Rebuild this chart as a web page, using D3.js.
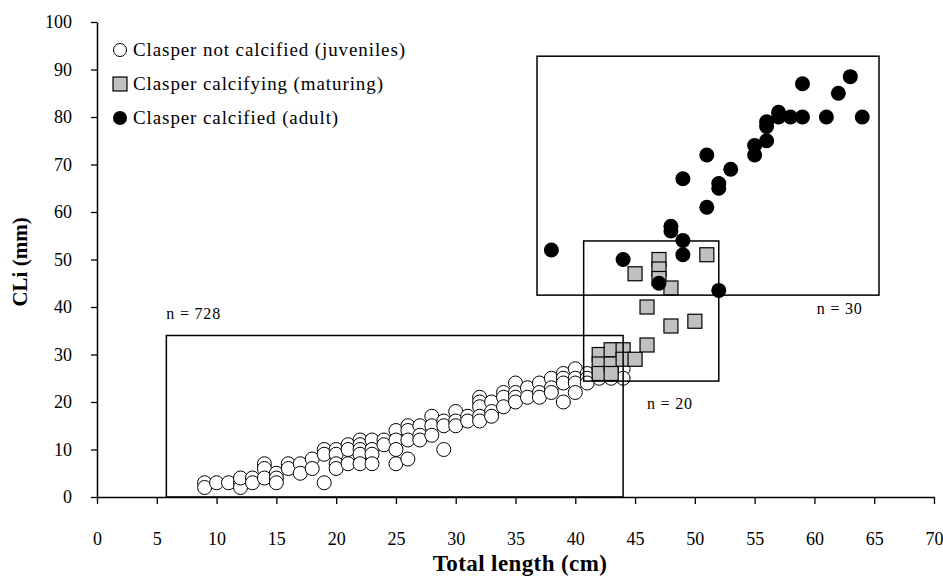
<!DOCTYPE html>
<html>
<head>
<meta charset="utf-8">
<script src="https://cdn.jsdelivr.net/npm/d3@7"></script>
<style>
  body { margin: 0; background: #fff; }
  svg text { font-family: "Liberation Serif", "Times New Roman", serif; }
</style>
</head>
<body>
<svg id="chart" width="943" height="579"></svg>
<script>
// Juveniles: clasper not calcified  [total length cm, CLi mm]
const juveniles = [
  [9,3],[9,2],[10,3],[11,3],[12,3],[12,2],[12,4],[13,4],[13,3],
  [14,7],[14,6],[14,4],[15,5],[15,4],[15,3],[16,7],[16,6],[17,7],[17,5],
  [18,8],[18,6],[19,10],[19,9],[19,3],[20,10],[20,9],[20,7],[20,6],
  [21,11],[21,10],[21,7],[22,12],[22,11],[22,10],[22,9],[22,7],
  [23,12],[23,10],[23,9],[23,7],[24,12],[24,11],[25,14],[25,12],[25,10],[25,7],
  [26,15],[26,14],[26,12],[26,8],[27,15],[27,13],[27,12],[28,17],[28,15],[28,13],
  [29,16],[29,15],[29,10],[30,18],[30,16],[30,15],[31,17],[31,16],
  [32,21],[32,20],[32,19],[32,17],[32,16],[33,20],[33,18],[33,17],
  [34,22],[34,21],[34,19],[35,24],[35,22],[35,21],[35,20],
  [36,23],[36,21],[37,24],[37,22],[37,21],[38,25],[38,23],[38,22],
  [39,26],[39,25],[39,24],[39,20],[40,27],[40,25],[40,24],[40,22],
  [41,26],[41,25],[41,24],[42,26],[42,25],[43,25],[43,27],[44,27],[44,25]
];
// Maturing: clasper calcifying
const maturing = [
  [42,30],[42,28],[42,26],[43,31],[43,28],[43,26],[44,31],[44,29],
  [45,29],[45,47],[46,32],[46,40],[47,50],[47,48],[47,46],
  [48,44],[48,36],[50,37],[51,51]
];
// Adults: clasper calcified
const adults = [
  [38,52],[44,50],[47,45],[48,57],[48,56],[49,54],[49,51],[49,67],
  [51,72],[51,61],[52,66],[52,65],[52,43.5],[53,69],[55,74],[55,72],
  [56,79],[56,78],[56,75],[57,81],[57,80],[58,80],[59,80],[59,87],
  [61,80],[62,85],[63,88.5],[64,80]
];
// Group boxes: [x0, x1, y0, y1, label, label x, label y]
const boxes = [
  [5.8, 44, 0, 34, "n = 728", 5.8, 37.5],
  [40.7, 52, 24.4, 53.9, "n = 20", 46, 18.5],
  [36.8, 65.4, 42.5, 92.8, "n = 30", 60.2, 38.6]
];
const legendItems = ["Clasper not calcified (juveniles)", "Clasper calcifying (maturing)", "Clasper calcified (adult)"];
const xTicks = d3.range(0, 71, 5);
const yTicks = d3.range(0, 101, 10);

const svg = d3.select("#chart");
const x = d3.scaleLinear().domain([0, 70]).range([97, 934]);
const y = d3.scaleLinear().domain([0, 100]).range([497, 22]);

// axes
svg.append("g")
    .attr("transform", "translate(0," + y(0) + ")")
    .call(d3.axisBottom(x).tickValues(xTicks).tickSize(7).tickSizeOuter(0).tickPadding(28))
    .call(g => g.select(".domain").attr("stroke-width", 1.5))
    .call(g => g.selectAll(".tick line").attr("stroke-width", 1.3))
    .call(g => g.selectAll("text").attr("font-size", 18).attr("fill", "#000")
        .attr("font-family", "Liberation Serif"));

svg.append("g")
    .attr("transform", "translate(" + x(0) + ",0)")
    .call(d3.axisLeft(y).tickValues(yTicks).tickSize(6).tickSizeOuter(0).tickPadding(19))
    .call(g => g.select(".domain").attr("stroke-width", 1.5))
    .call(g => g.selectAll(".tick line").attr("stroke-width", 1.3))
    .call(g => g.selectAll("text").attr("font-size", 18).attr("fill", "#000")
        .attr("font-family", "Liberation Serif"));

// axis titles
svg.append("text")
    .attr("x", 520).attr("y", 571)
    .attr("text-anchor", "middle")
    .attr("font-size", 23).attr("font-weight", "bold")
    .attr("letter-spacing", 0.4)
    .text("Total length (cm)");

svg.append("text")
    .attr("transform", "translate(27,262) rotate(-90)")
    .attr("text-anchor", "middle")
    .attr("font-size", 21).attr("font-weight", "bold")
    .text("CLi (mm)");

// markers
svg.append("g").selectAll("circle")
  .data(juveniles)
  .enter().append("circle")
    .attr("cx", d => x(d[0])).attr("cy", d => y(d[1]))
    .attr("r", 7)
    .attr("fill", "#fff").attr("stroke", "#000").attr("stroke-width", 1);

svg.append("g").selectAll("rect")
  .data(maturing)
  .enter().append("rect")
    .attr("x", d => x(d[0]) - 7).attr("y", d => y(d[1]) - 7)
    .attr("width", 14).attr("height", 14)
    .attr("fill", "#c0c0c0").attr("stroke", "#000").attr("stroke-width", 1.2);

svg.append("g").selectAll("circle")
  .data(adults)
  .enter().append("circle")
    .attr("cx", d => x(d[0])).attr("cy", d => y(d[1]))
    .attr("r", 7.5)
    .attr("fill", "#000");

// group boxes
var box = svg.append("g").selectAll("g")
  .data(boxes)
  .enter().append("g");

box.append("rect")
    .attr("x", d => x(d[0])).attr("y", d => y(d[3]))
    .attr("width", d => x(d[1]) - x(d[0]))
    .attr("height", d => y(d[2]) - y(d[3]))
    .attr("fill", "none").attr("stroke", "#000").attr("stroke-width", 1.5);

box.append("text")
    .attr("x", d => x(d[5])).attr("y", d => y(d[6]))
    .attr("font-size", 16).attr("letter-spacing", 0.8)
    .text(d => d[4]);

// legend
var leg = svg.append("g").selectAll("g")
  .data(legendItems)
  .enter().append("g")
    .attr("transform", (d, i) => "translate(120," + (50 + i * 34) + ")");

leg.filter((d, i) => i == 0).append("circle")
    .attr("r", 6.5).attr("fill", "#fff").attr("stroke", "#000");
leg.filter((d, i) => i == 1).append("rect")
    .attr("x", -7).attr("y", -7).attr("width", 14).attr("height", 14)
    .attr("fill", "#c0c0c0").attr("stroke", "#000").attr("stroke-width", 1.2);
leg.filter((d, i) => i == 2).append("circle")
    .attr("r", 7).attr("fill", "#000");

leg.append("text")
    .attr("x", 13).attr("y", 6)
    .attr("font-size", 19).attr("letter-spacing", 0.9)
    .text(d => d);
</script>
</body>
</html>
